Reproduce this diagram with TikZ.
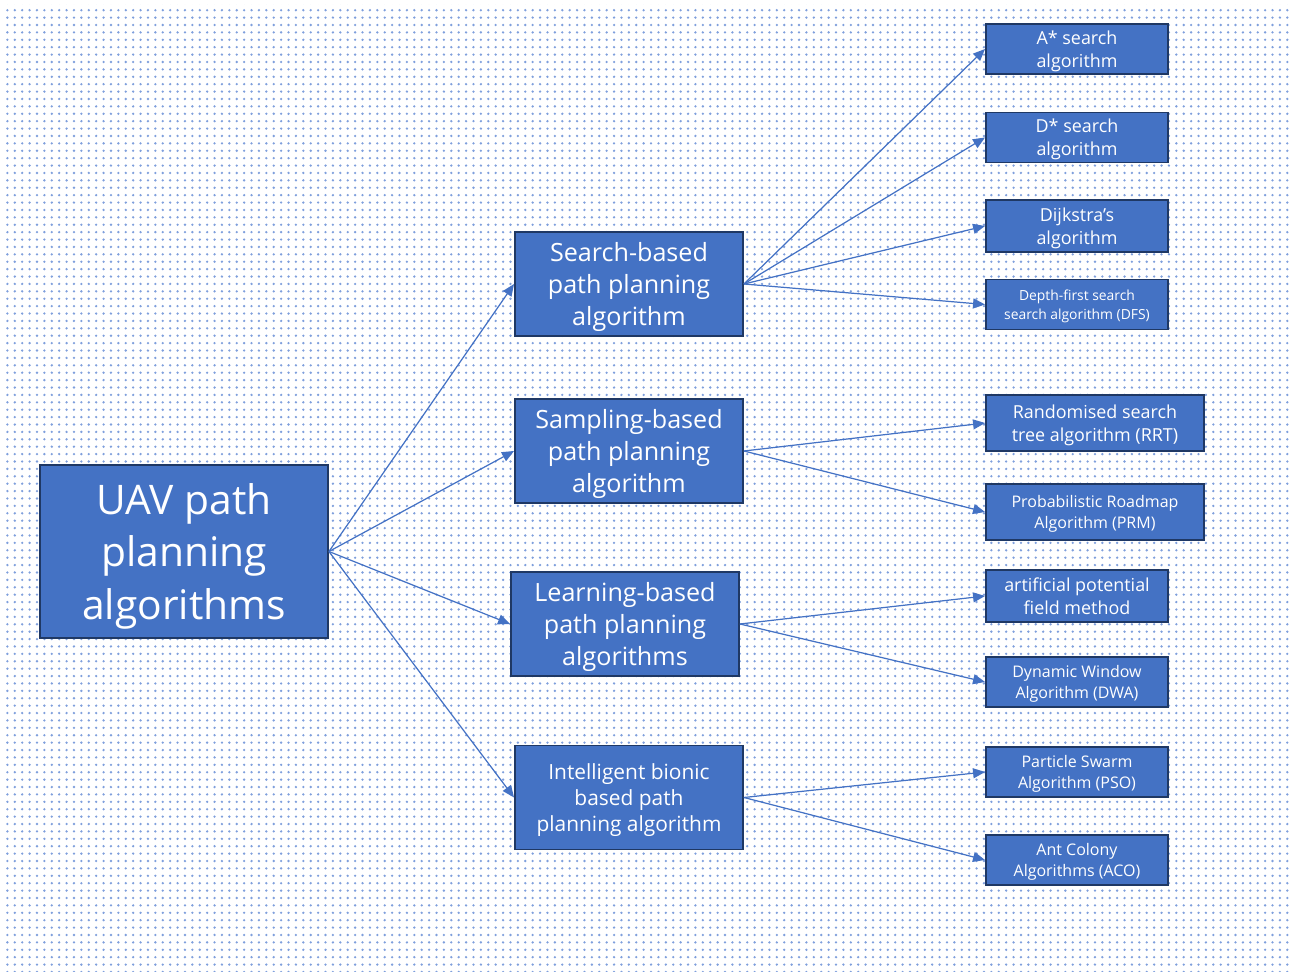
\documentclass[tikz,border=0pt]{standalone}
\usepackage{fontspec}
\setmainfont{Open Sans}
\usepackage{tikz}
\usetikzlibrary{arrows.meta,positioning,patterns.meta}
\usepackage{xcolor}
\definecolor{boxblue}{HTML}{4472C4}
\definecolor{boxline}{HTML}{1F3864}
\definecolor{dotblue}{HTML}{7F9FDC}

\begin{document}
\begin{tikzpicture}[x=0.02cm, y=-0.02cm, >={Triangle[length=2.4mm,width=2mm]},
    algbox/.style={draw=boxline, line width=1.1pt, fill=boxblue, text=white, align=center, inner sep=1pt},
    rootbox/.style={algbox, minimum width=5.76cm, minimum height=3.46cm, font=\fontsize{23.2}{30}\selectfont, text depth=-6.2pt},
    midbox/.style={algbox, minimum width=4.56cm, minimum height=2.08cm, font=\fontsize{14.3}{18}\selectfont, text depth=-2.9pt},
    leafbox/.style={algbox, minimum width=3.64cm, minimum height=1.0cm, font=\fontsize{10.2}{13}\selectfont, text depth=-2.1pt},
    smallleaf/.style={leafbox, font=\fontsize{9.1}{12}\selectfont, text depth=-3.7pt},
    link/.style={->, draw=boxblue, line width=0.7pt}]
        \useasboundingbox (0,0) rectangle (1289,972);
        % dotted background
        \fill[pattern={Dots[distance=0.148cm, radius=0.026cm]}, pattern color=dotblue] (6,5) rectangle (1289,972);

        \node [rootbox] (root) at (184,551.5) {UAV path\\planning\\algorithms};

        \node [midbox] (search) at (629,284) {Search-based\\path planning\\algorithm};
        \node [midbox] (sampling) at (629,451) {Sampling-based\\path planning\\algorithm};
        \node [midbox] (learning) at (625,624) {Learning-based\\path planning\\algorithms};
        \node [midbox, font=\fontsize{11.9}{15}\selectfont, text depth=-3.8pt] (bionic) at (629,797.5) {Intelligent bionic\\based path\\planning algorithm};

        \node [leafbox] (astar) at (1077,49) {A* search\\algorithm};
        \node [leafbox] (dstar) at (1077,137.5) {D* search\\algorithm};
        \node [leafbox, minimum height=1.04cm] (dijkstra) at (1077,226) {Dijkstra's\\algorithm};
        \node [leafbox, font=\fontsize{7.9}{10.8}\selectfont, text depth=-2.6pt] (dfs) at (1077,304.5) {Depth-first search\\search algorithm (DFS)};
        \node [leafbox, minimum width=4.36cm, minimum height=1.12cm] (rrt) at (1095,423) {Randomised search\\tree algorithm (RRT)};
        \node [smallleaf, minimum width=4.36cm, minimum height=1.12cm] (prm) at (1095,512) {Probabilistic Roadmap\\Algorithm (PRM)};
        \node [leafbox, minimum height=1.04cm, text depth=-3.3pt] (apf) at (1077,596) {artificial potential\\field method};
        \node [smallleaf] (dwa) at (1077,682) {Dynamic Window\\Algorithm (DWA)};
        \node [smallleaf] (pso) at (1077,772) {Particle Swarm\\Algorithm (PSO)};
        \node [smallleaf] (aco) at (1077,860) {Ant Colony\\Algorithms (ACO)};

        \draw[link] (root.east) -- (search.west);
        \draw[link] (root.east) -- (sampling.west);
        \draw[link] (root.east) -- (learning.west);
        \draw[link] (root.east) -- (bionic.west);

        \draw[link] (search.east) -- (astar.west);
        \draw[link] (search.east) -- (dstar.west);
        \draw[link] (search.east) -- (dijkstra.west);
        \draw[link] (search.east) -- (dfs.west);
        \draw[link] (sampling.east) -- (rrt.west);
        \draw[link] (sampling.east) -- (prm.west);
        \draw[link] (learning.east) -- (apf.west);
        \draw[link] (learning.east) -- (dwa.west);
        \draw[link] (bionic.east) -- (pso.west);
        \draw[link] (bionic.east) -- (aco.west);
    \end{tikzpicture}
\end{document}
